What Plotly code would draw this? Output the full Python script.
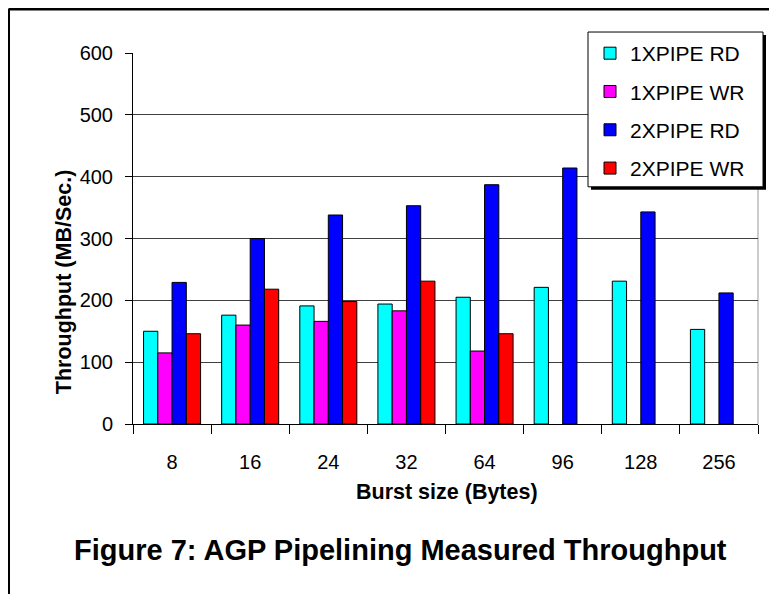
import plotly.graph_objects as go

categories = ["8", "16", "24", "32", "64", "96", "128", "256"]
pipe1_rd = [150, 176, 191, 194, 205, 221, 231, 153]
pipe1_wr = [115, 160, 166, 183, 118, None, None, None]
pipe2_rd = [229, 300, 338, 353, 387, 414, 343, 212]
pipe2_wr = [146, 218, 198, 231, 146, None, None, None]
y_ticks = [0, 100, 200, 300, 400, 500, 600]

# page (screenshot) coordinates; the html body adds an 8px margin
OFF = 8
W, H = 777 - OFF, 594 - OFF
L, R, T, B = 133 - OFF, 758 - OFF, 53 - OFF, 424.5 - OFF
FONT = "Liberation Sans, Arial, sans-serif"


def px(x):
    return (x - OFF - L) / (R - L)


def py(y):
    return (B - (y - OFF)) / (B - T)


series = [
    ("1XPIPE RD", pipe1_rd, "#00FFFF"),
    ("1XPIPE WR", pipe1_wr, "#FF00FF"),
    ("2XPIPE RD", pipe2_rd, "#0000FF"),
    ("2XPIPE WR", pipe2_wr, "#FF0000"),
]

fig = go.Figure()
for i, (name, vals, col) in enumerate(series):
    fig.add_trace(go.Bar(
        x=categories, y=vals, name=name, legendgroup=f"g{i}",
        marker=dict(color=col, line=dict(color="#000000", width=1)),
    ))

fig.update_layout(
    width=W, height=H,
    margin=dict(l=L, r=W - R, t=T, b=H - B, pad=0),
    paper_bgcolor="white", plot_bgcolor="white",
    barmode="group", bargap=0.27, bargroupgap=0,
    font=dict(family=FONT, size=20, color="#000000"),
    showlegend=True,
    legend=dict(
        x=px(590), y=py(33), xanchor="left", yanchor="top",
        bgcolor="rgba(0,0,0,0)", borderwidth=0,
        font=dict(size=21, family=FONT), tracegroupgap=8,
    ),
    xaxis=dict(
        type="category", tickson="boundaries", ticks="outside", ticklen=9,
        tickcolor="#000000", tickwidth=1, showline=True, linecolor="#000000",
        linewidth=1, showgrid=False, ticklabelstandoff=20,
        tickfont=dict(size=20),
    ),
    yaxis=dict(
        range=[0, 600], tickvals=y_ticks, ticks="outside", ticklen=7,
        tickcolor="#000000", showline=True, linecolor="#000000", linewidth=1,
        showgrid=True, gridcolor="#404040", gridwidth=1, zeroline=False,
        ticklabelstandoff=8, tickfont=dict(size=20),
    ),
    shapes=[
        # outer frame
        dict(type="line", xref="paper", yref="paper", x0=px(8.5), x1=px(800),
             y0=py(9), y1=py(9), line=dict(color="#000000", width=3)),
        dict(type="line", xref="paper", yref="paper", x0=px(8.5), x1=px(8.5),
             y0=py(9), y1=py(600), line=dict(color="#000000", width=3)),
        # right plot border
        dict(type="line", xref="paper", yref="paper", x0=1, x1=1, y0=0, y1=1,
             line=dict(color="#999999", width=1), layer="below"),
        # legend shadow and box
        dict(type="rect", xref="paper", yref="paper", x0=px(591), x1=px(766),
             y0=py(190), y1=py(35), fillcolor="#000000",
             line=dict(width=0), layer="above"),
        dict(type="rect", xref="paper", yref="paper", x0=px(588), x1=px(763),
             y0=py(187), y1=py(32), fillcolor="#FFFFFF",
             line=dict(color="#000000", width=1), layer="above"),
    ],
    annotations=[
        dict(text="<b>Burst size (Bytes)</b>", xref="paper", yref="paper",
             x=px(447), y=py(493), xanchor="center", yanchor="middle",
             showarrow=False, font=dict(size=21.5, family=FONT)),
        dict(text="<b>Throughput (MB/Sec.)</b>", xref="paper", yref="paper",
             x=px(64), y=py(282.5), xanchor="center", yanchor="middle",
             showarrow=False, textangle=-90,
             font=dict(size=21.5, family=FONT)),
        dict(text="<b>Figure 7: AGP Pipelining Measured Throughput</b>",
             xref="paper", yref="paper", x=px(400), y=py(551),
             xanchor="center", yanchor="middle",
             showarrow=False, font=dict(size=29, family=FONT)),
    ],
)

fig.write_html("out.html")
